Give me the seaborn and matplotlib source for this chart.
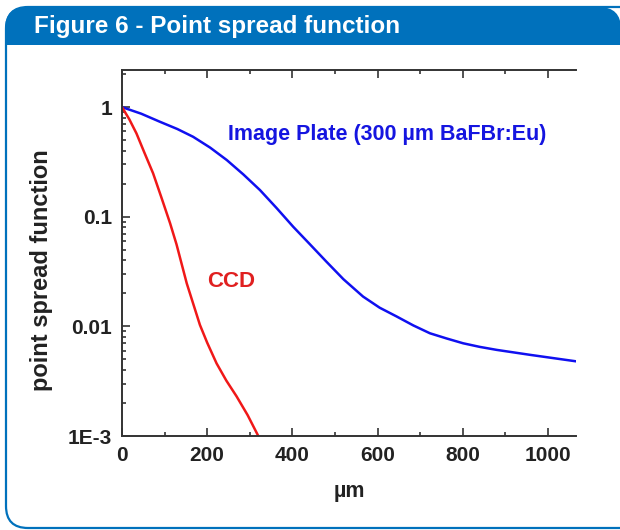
import numpy as np
import pandas as pd
import seaborn as sns
import matplotlib.pyplot as plt
import matplotlib.patches as mpatches
import matplotlib.transforms as mtrans
from matplotlib.ticker import FixedLocator, LogLocator, NullFormatter, MultipleLocator

# curve values (distance in um, normalised PSF)
x_ip = [0, 45, 89, 130, 167, 207, 246, 285, 324, 363, 402, 441, 480, 520, 566,
        605, 645, 684, 723, 762, 801, 840, 880, 958, 1066]
psf_ip = [1, 0.871, 0.735, 0.631, 0.536, 0.427, 0.329, 0.243, 0.175, 0.120, 0.081,
          0.0562, 0.0389, 0.0269, 0.0187, 0.0148, 0.0123, 0.0102, 0.00865, 0.00776,
          0.00701, 0.0065, 0.0061, 0.0055, 0.0048]
x_ccd = [0, 17, 34, 52, 73, 93, 113, 128, 152, 183, 200, 222, 245, 269, 295, 320]
psf_ccd = [1, 0.776, 0.575, 0.389, 0.249, 0.148, 0.087, 0.056, 0.0247, 0.0103,
           0.0071, 0.0046, 0.0032, 0.0023, 0.00155, 0.001]

y_ticks = [1e-3, 1e-2, 1e-1, 1]
y_tick_labels = ["1E-3", "0.01", "0.1", "1"]
x_ticks = [0, 200, 400, 600, 800, 1000]

df = pd.concat([
    pd.DataFrame({"x": x_ip, "psf": psf_ip, "det": "ip"}),
    pd.DataFrame({"x": x_ccd, "psf": psf_ccd, "det": "ccd"}),
])

sns.set_style("ticks")
plt.rcParams["font.family"] = ["Liberation Sans", "DejaVu Sans"]

W, H = 620, 530
fig = plt.figure(figsize=(W / 100, H / 100), dpi=100)
blue_frame = "#0071bc"
px = mtrans.IdentityTransform()

# rounded frame with a blue header band
frame = mpatches.FancyBboxPatch((6, 2), 700, H - 9, boxstyle="round,pad=0,rounding_size=22",
                                transform=px, facecolor="white", edgecolor=blue_frame, lw=1.6, zorder=-3)
fig.patches.append(frame)
header = mpatches.FancyBboxPatch((5, 2), 616, H - 9, boxstyle="round,pad=0,rounding_size=22",
                                 transform=px, facecolor=blue_frame, edgecolor="none", zorder=-2)
clip = mpatches.Rectangle((0, H - 45), W, 45, transform=px)
header.set_clip_path(clip)
fig.patches.append(header)
fig.text(34 / W, 1 - 26 / H, "Figure 6 - Point spread function", color="white", fontsize=17.5,
         fontweight="bold", va="center", ha="left")

ax = fig.add_axes([122 / W, 1 - 436 / H, (576 - 122) / W, (436 - 70) / H])
ax.set_facecolor("none")
sns.lineplot(data=df, x="x", y="psf", hue="det", palette={"ip": "#1010f0", "ccd": "#f01818"},
             lw=1.8, legend=False, ax=ax, sort=False, estimator=None)
ax.set_yscale("log")
ax.set_xlim(0, 1066)
ax.set_ylim(1e-3, 2.18)

ax.xaxis.set_major_locator(FixedLocator(x_ticks))
ax.xaxis.set_minor_locator(MultipleLocator(100))
ax.set_yticks(y_ticks)
ax.set_yticklabels(y_tick_labels)
ax.yaxis.set_minor_locator(LogLocator(base=10, subs=np.arange(2, 10)))
ax.yaxis.set_minor_formatter(NullFormatter())

ax.tick_params(which="both", direction="in", color="#333333", width=1.2, top=True, right=False,
               labelsize=15, labelcolor="#222222", pad=7)
ax.tick_params(which="major", length=6)
ax.tick_params(which="minor", length=3)
for lab in ax.get_xticklabels() + ax.get_yticklabels():
    lab.set_fontweight("bold")

for side in ["left", "bottom", "top"]:
    ax.spines[side].set_color("#333333")
    ax.spines[side].set_linewidth(1.4)
ax.spines["right"].set_visible(False)

ax.set_xlabel("µm", fontsize=15.5, fontweight="bold", color="#222222", labelpad=12)
ax.set_ylabel("point spread function", fontsize=17, fontweight="bold", color="#222222")
ax.yaxis.set_label_coords(-0.152, 0.454)

ax.text(249, 0.567, "Image Plate (300 µm BaFBr:Eu)", color="#1515e0", fontsize=15.5,
        fontweight="bold", va="center", ha="left")
ax.text(200, 0.0254, "CCD", color="#e02020", fontsize=16, fontweight="bold", va="center", ha="left")

fig.savefig("out.png", dpi=100)
